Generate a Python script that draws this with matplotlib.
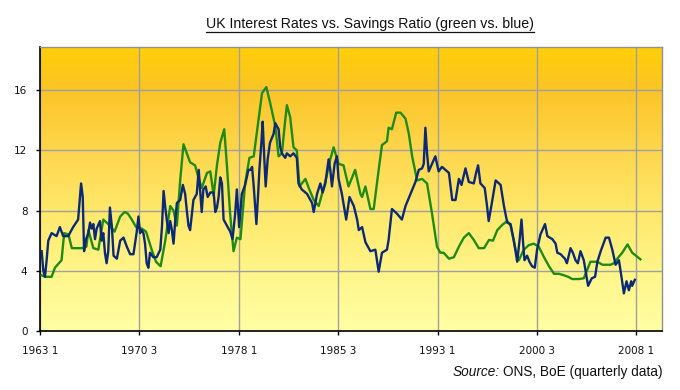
import matplotlib
matplotlib.use("Agg")
import matplotlib.pyplot as plt
import numpy as np
from matplotlib.colors import LinearSegmentedColormap
from matplotlib.lines import Line2D

# x positions: quarters since 1963 Q1 ; values in percent
blue_q = [0.5, 1.0, 1.5, 2.0, 2.5, 3.5, 5.0, 6.0, 7.0, 8.5, 10.0, 11.5, 12.0, 12.4, 12.9,
          13.3, 13.9, 14.6, 15.1, 15.6, 16.1, 16.6, 17.1, 18.1, 18.6, 19.1, 19.6, 20.1, 20.6,
          21.1, 21.7, 22.2, 23.2, 24.2, 25.2, 26.2, 27.2, 28.2, 29.2, 29.7, 30.2, 30.7, 31.2,
          31.7, 32.2, 32.7, 33.2, 34.2, 35.2, 36.3, 36.8, 37.3, 37.8, 38.3, 38.8, 39.3, 39.8,
          40.3, 40.8, 41.3, 42.3, 43.1, 43.8, 44.3, 44.8, 45.3, 46.3, 47.3, 47.9, 48.3, 48.8,
          49.3, 50.0, 50.6, 51.4, 52.4, 52.9, 53.4, 53.9, 54.4, 54.9, 55.4, 56.4, 57.4, 58.1,
          58.9, 59.4, 60.1, 60.9, 61.9, 62.9, 63.5, 64.0, 64.5, 65.3, 65.8, 66.2, 66.8, 67.2,
          67.7, 68.1, 68.7, 69.4, 70.5, 71.0, 72.0, 72.5, 73.0, 74.0, 74.5, 75.5, 76.5, 77.5,
          78.0, 79.0, 80.6, 82.1, 82.6, 83.6, 84.6, 85.3, 86.1, 87.1, 87.6, 88.1, 88.9, 89.6,
          90.1, 91.1, 92.4, 93.4, 94.7, 95.7, 96.2, 97.2, 98.2, 99.7, 101.2, 102.2, 103.2,
          104.7, 105.2, 106.2, 107.7, 109.2, 110.3, 111.8, 113.3, 114.3, 115.3, 115.8, 116.3,
          116.8, 117.3, 118.3, 119.3, 120.3, 121.3, 123.4, 124.4, 125.4, 126.4, 127.2, 128.4,
          129.4, 130.9, 131.6, 132.2, 132.9, 134.2, 134.9, 135.4, 136.2, 137.5, 139.0, 140.0,
          141.0, 142.0, 143.0, 144.0, 144.7, 145.3, 145.8, 146.2, 147.0, 147.7, 148.5, 149.3,
          150.0, 151.0, 152.4, 153.1, 154.6, 155.6, 156.1, 157.1, 158.4, 159.0, 160.1, 160.8,
          161.6, 162.3, 163.1, 164.1, 164.8, 165.4, 166.5, 167.5, 168.2, 169.2, 170.7, 171.7,
          172.7, 173.7, 174.7, 175.4, 176.2, 177.0, 177.7, 178.4, 178.7, 179.5]
blue_v = [5.3, 4.0, 3.6, 4.7, 6.0, 6.5, 6.3, 6.9, 6.3, 6.3, 6.9, 7.4, 8.7, 9.8, 8.9,
          5.3, 6.1, 6.5, 7.2, 6.8, 7.1, 6.1, 6.8, 7.3, 6.0, 6.5, 5.2, 4.5, 5.3,
          8.2, 6.9, 5.0, 4.8, 6.0, 6.2, 5.6, 5.1, 5.1, 6.6, 7.6, 6.5, 6.7, 6.5,
          5.8, 4.5, 4.2, 5.2, 4.9, 4.9, 5.4, 6.9, 9.3, 8.2, 7.3, 6.5, 7.3, 6.7,
          5.8, 7.3, 8.5, 8.7, 9.7, 9.1, 8.0, 7.0, 6.7, 8.7, 9.1, 10.7, 9.4, 7.9,
          9.4, 9.6, 8.9, 9.2, 9.2, 7.9, 8.2, 8.9, 10.2, 9.8, 7.4, 7.0, 6.6, 6.1,
          7.8, 9.4, 6.9, 9.1, 9.7, 10.7, 10.7, 10.9, 9.6, 7.1, 9.0, 10.7, 12.5, 13.9,
          11.4, 9.6, 11.4, 12.5, 13.1, 13.8, 13.4, 12.2, 11.8, 11.5, 11.8, 11.6, 11.8, 11.5,
          9.8, 9.4, 9.1, 8.5, 7.9, 9.1, 9.8, 9.2, 9.8, 11.4, 10.7, 9.6, 11.1, 11.6,
          10.1, 9.1, 7.4, 8.9, 8.3, 7.4, 6.7, 6.9, 5.9, 5.3, 5.4, 3.94, 5.2,
          5.4, 6.05, 8.1, 7.8, 7.4, 8.3, 9.1, 9.9, 10.7, 10.8, 11.1, 13.5,
          11.8, 10.6, 11.1, 11.6, 10.6, 10.9, 10.5, 8.7, 8.7, 10.1, 9.7, 10.8,
          9.9, 9.8, 10.5, 11.0, 9.8, 9.5, 8.3, 7.3, 8.3, 10.0, 9.7, 8.3,
          7.2, 7.1, 6.0, 4.6, 6.0, 7.4, 5.8, 4.7, 5.0, 4.6, 4.3, 4.2,
          5.4, 6.4, 7.1, 6.3, 6.1, 5.8, 5.2, 5.1, 4.8, 4.5, 5.5, 5.2,
          4.7, 4.5, 5.3, 4.7, 3.8, 3.0, 3.5, 3.6, 4.6, 5.3, 6.2, 6.2,
          5.4, 4.4, 4.7, 3.7, 2.5, 3.3, 2.7, 3.3, 3.0, 3.4]

green_q = [0.5, 1.5, 3.5, 4.5, 6.5, 7.3, 8.6, 9.6, 12.6, 14.0, 14.6, 16.1, 17.6, 19.1,
           20.6, 22.5, 24.2, 25.5, 26.5, 27.7, 29.0, 30.7, 32.0, 33.7, 35.0, 36.4, 37.8,
           39.3, 40.3, 41.3, 42.3, 43.3, 44.3, 45.3, 46.8, 47.8, 48.8, 50.4, 51.4, 52.4,
           53.4, 54.4, 55.6, 56.4, 57.4, 58.4, 59.4, 60.5, 61.9, 63.2, 64.5, 65.5, 67.0,
           68.3, 69.5, 71.0, 72.0, 73.0, 74.0, 74.5, 75.5, 76.5, 77.5, 78.3, 80.1, 81.1,
           82.6, 84.1, 86.1, 87.6, 88.6, 90.1, 91.6, 93.1, 95.1, 96.7, 97.2, 98.2, 99.7,
           100.7, 102.2, 103.2, 104.7, 105.2, 106.2, 107.5, 108.8, 110.3, 111.3, 112.3,
           113.8, 115.3, 116.8, 118.3, 119.8, 120.8, 121.8, 123.4, 124.9, 126.4, 127.9,
           129.4, 130.9, 132.4, 134.0, 135.5, 136.7, 138.0, 139.5, 141.0, 142.0, 143.5,
           144.5, 146.0, 147.5, 149.0, 150.5, 152.1, 153.6, 155.1, 156.6, 158.1, 159.4,
           160.6, 162.6, 164.1, 165.1, 166.1, 168.2, 169.7, 172.2, 173.2, 174.2, 175.7,
           177.3, 178.7, 181.2]
green_v = [3.7, 3.6, 3.6, 4.2, 4.7, 6.5, 6.4, 5.5, 5.5, 5.6, 6.7, 5.5, 5.4, 7.4,
           7.1, 6.6, 7.6, 7.9, 7.8, 7.4, 6.9, 6.8, 6.6, 5.4, 4.6, 4.3, 6.0,
           8.3, 8.0, 7.0, 10.0, 12.4, 11.8, 11.2, 11.0, 10.2, 9.5, 10.5, 10.6, 9.0,
           11.0, 12.5, 13.4, 11.0, 7.7, 5.3, 6.2, 6.1, 9.8, 11.5, 11.6, 13.3, 15.8,
           16.2, 15.1, 13.6, 11.6, 11.8, 14.0, 15.0, 14.2, 12.2, 12.0, 9.6, 10.1, 9.5,
           8.7, 8.3, 9.9, 11.4, 12.2, 11.1, 11.0, 9.6, 10.7, 9.1, 8.9, 9.6, 8.1,
           8.1, 10.7, 12.35, 12.6, 13.5, 13.4, 14.5, 14.5, 14.1, 13.1, 11.6,
           10.0, 10.1, 9.8, 7.8, 5.6, 5.2, 5.2, 4.8, 4.9, 5.6, 6.2,
           6.5, 6.05, 5.5, 5.5, 6.05, 6.0, 6.7, 7.05, 7.3, 7.0, 5.4,
           4.7, 5.4, 5.7, 5.8, 5.6, 4.9, 4.3, 3.8, 3.8, 3.7, 3.6,
           3.45, 3.45, 3.5, 4.05, 4.6, 4.6, 4.4, 4.4, 4.5, 4.8, 5.2,
           5.75, 5.2, 4.76]

x_tick_labels = ["1963 1", "1970 3", "1978 1", "1985 3", "1993 1", "2000 3", "2008 1"]
y_ticks = [0, 4, 8, 12, 16]

title = "UK Interest Rates vs. Savings Ratio (green vs. blue)"
source_italic = "Source:"
source_rest = "ONS, BoE (quarterly data)"


def label_to_q(s):
    yr, q = s.split()
    return (int(yr) - 1963) * 4 + int(q) - 1


W, H = 680, 390
fig = plt.figure(figsize=(W / 100, H / 100), dpi=100)
fig.patch.set_facecolor("white")
ax = fig.add_axes([40 / W, 1 - 331 / H, 622 / W, 284 / H])

XMAX, YMAX = 187.7, 18.86
ax.set_xlim(0, XMAX)
ax.set_ylim(0, YMAX)

# background gradient (bottom -> top)
cmap = LinearSegmentedColormap.from_list(
    "bg",
    [(0.0, (1.0, 1.0, 0.64)),
     (0.21, (1.0, 0.96, 0.54)),
     (0.42, (1.0, 0.91, 0.42)),
     (0.64, (0.995, 0.84, 0.30)),
     (0.85, (0.985, 0.77, 0.15)),
     (1.0, (1.0, 0.81, 0.03))])
grad = np.linspace(0, 1, 256).reshape(-1, 1)
ax.imshow(grad, extent=[0, XMAX, 0, YMAX], aspect="auto", cmap=cmap,
          origin="lower", zorder=0, interpolation="bilinear")

ax.set_axisbelow(True)
ax.grid(True, color="#A0A0A0", linewidth=1.0)

ax.plot(green_q, green_v, color="#1E8C14", linewidth=1.7, zorder=3,
        solid_joinstyle="round")
ax.plot(blue_q, blue_v, color="#0A2A78", linewidth=1.7, zorder=4,
        solid_joinstyle="round")

ax.set_xticks([label_to_q(s) for s in x_tick_labels])
ax.set_xticklabels(x_tick_labels)
ax.set_yticks(y_ticks)
ax.set_yticklabels([str(v) for v in y_ticks])
ax.tick_params(axis="both", direction="out", length=3, width=1, color="black",
               labelsize=7.5, labelcolor="#111111")
ax.tick_params(axis="x", pad=8)
ax.tick_params(axis="y", pad=6)
for lab in ax.get_xticklabels() + ax.get_yticklabels():
    lab.set_family("DejaVu Sans")

for side in ("left", "bottom"):
    ax.spines[side].set_color("black")
    ax.spines[side].set_linewidth(1.2)
for side in ("top", "right"):
    ax.spines[side].set_color("#909090")
    ax.spines[side].set_linewidth(1.0)

t = fig.text(370 / W, 1 - 24 / H, title, ha="center", va="center",
             fontsize=10.2, family="Liberation Sans", color="#111111")
src = fig.text(663 / W, 1 - 372 / H, source_rest, ha="right", va="center",
               fontsize=9.8, family="Liberation Sans", color="#111111")

fig.canvas.draw()
r = fig.canvas.get_renderer()
bb = t.get_window_extent(r)
fig.add_artist(Line2D([bb.x0 / W, bb.x1 / W], [(H - 32) / H, (H - 32) / H],
                      color="#111111", linewidth=0.9, transform=fig.transFigure))
sb = src.get_window_extent(r)
fig.text((sb.x0 - 4) / W, 1 - 372 / H, source_italic, ha="right", va="center",
         fontsize=9.8, family="Liberation Sans", style="italic", color="#111111")

fig.savefig("out.png", dpi=100, facecolor="white")
